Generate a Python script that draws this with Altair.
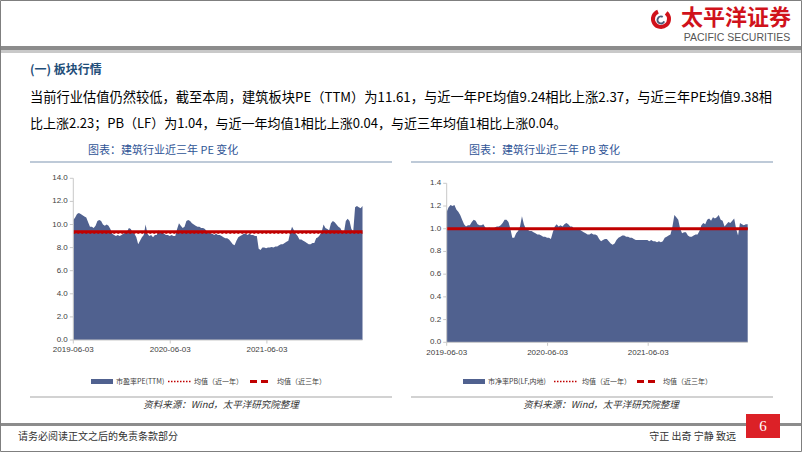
import altair as alt
import pandas as pd

CJK = "Noto Sans CJK SC"
LAT = "Liberation Sans"
AREA = "#50618F"
RED = "#C00000"
BLUE_T = "#2F5496"
AXC = "#C8C8C8"
LABC = "#404040"

# ---------------- data ----------------
start_date = "2019-06-03"
pe_ttm = [
    10.4, 10.6, 10.9, 11.0, 10.9, 10.8, 10.7, 10.6, 10.2, 9.8,
    9.8, 9.7, 9.9, 10.3, 10.4, 10.3, 10.0, 9.9, 10.0, 9.9,
    9.6, 9.2, 9.1, 9.0, 9.1, 9.0, 9.1, 9.2, 9.3, 9.4,
    9.7, 9.6, 9.3, 9.2, 8.9, 8.3, 8.6, 8.9, 9.1, 10.0,
    9.2, 9.0, 9.1, 8.9, 9.1, 9.1, 9.5, 9.4, 9.3, 9.2,
    9.1, 9.1, 9.0, 9.1, 9.0, 9.0, 9.6, 10.1, 9.9, 9.7,
    9.8, 10.3, 10.4, 10.3, 10.1, 10.0, 9.9, 9.8, 9.8, 9.7,
    9.7, 9.6, 9.4, 9.3, 9.2, 9.2, 9.1, 9.2, 9.1, 9.1,
    9.0, 8.9, 8.8, 8.8, 8.7, 8.5, 8.3, 8.2, 8.6, 8.9,
    9.0, 9.1, 9.2, 9.2, 9.1, 9.2, 9.1, 9.1, 9.0, 9.0,
    7.9, 7.8, 8.0, 8.0, 7.95, 8.0, 8.0, 8.05, 8.0, 8.1,
    8.1, 8.2, 8.3, 8.3, 8.4, 8.5, 8.6, 9.3, 9.8, 9.5,
    9.2, 9.0, 8.7, 8.7, 8.6, 8.5, 8.4, 8.3, 8.3, 8.4,
    8.4, 8.8, 8.9, 9.1, 9.4, 10.0, 9.7, 9.6, 9.5, 10.1,
    10.3, 10.2, 10.0, 9.8, 9.7, 9.4, 9.3, 10.3, 10.5, 10.3,
    9.6, 9.4, 11.5, 11.6, 11.5, 11.4, 11.61,
]
pb_lf = [
    1.15, 1.19, 1.21, 1.20, 1.21, 1.17, 1.15, 1.12, 1.08, 1.04,
    1.02, 1.03, 1.03, 1.06, 1.08, 1.07, 1.04, 1.03, 1.03, 1.04,
    1.01, 1.00, 1.01, 1.00, 1.00, 1.01, 1.02, 1.02, 1.03, 1.05,
    1.08, 1.08, 1.06, 1.00, 0.92, 0.92, 0.96, 0.98, 1.02, 1.11,
    1.04, 1.00, 0.99, 0.98, 0.98, 0.97, 0.96, 0.95, 0.95, 0.94,
    0.93, 0.93, 0.92, 0.92, 0.91, 0.97, 1.02, 1.04, 1.02, 1.03,
    1.02, 1.04, 1.05, 1.04, 1.02, 1.02, 1.00, 0.99, 0.99, 0.99,
    0.98, 0.97, 0.96, 0.95, 0.95, 0.96, 0.95, 0.95, 0.94, 0.91,
    0.89, 0.90, 0.91, 0.91, 0.89, 0.87, 0.86, 0.87, 0.90, 0.92,
    0.93, 0.94, 0.94, 0.93, 0.93, 0.92, 0.92, 0.91, 0.90, 0.90,
    0.90, 0.90, 0.90, 0.90, 0.90, 0.89, 0.90, 0.89, 0.89, 0.88,
    0.89, 0.88, 0.89, 0.92, 0.93, 0.94, 0.95, 1.02, 1.12, 1.10,
    1.08, 1.00, 0.96, 0.97, 0.97, 0.94, 0.93, 0.93, 0.94, 0.95,
    0.95, 0.98, 1.03, 1.05, 1.04, 1.08, 1.09, 1.07, 1.10, 1.09,
    1.10, 1.12, 1.08, 1.07, 1.02, 1.04, 1.06, 1.05, 1.07, 1.09,
    1.00, 0.94, 1.05, 1.04, 1.03, 1.04, 1.04,
]
pe_means = [9.24, 9.38]          # 近一年, 近三年
pb_means = [1.0, 1.0]
mean_kinds = ["1y", "3y"]
x_tick_dates = ["2019-06-03", "2020-06-03", "2021-06-03"]
x_tick_labels = ["2019-06-03", "2020-06-03", "2021-06-03"]
pe_y_ticks = [0, 2, 4, 6, 8, 10, 12, 14]
pb_y_ticks = [0, 0.2, 0.4, 0.6, 0.8, 1.0, 1.2, 1.4]

heading = "(一) 板块行情"
para_1 = "当前行业估值仍然较低，截至本周，建筑板块PE（TTM）为11.61，与近一年PE均值9.24相比上涨2.37，与近三年PE均值9.38相"
para_2 = "比上涨2.23；PB（LF）为1.04，与近一年均值1相比上涨0.04，与近三年均值1相比上涨0.04。"
pe_title = "图表：建筑行业近三年 PE 变化"
pb_title = "图表：建筑行业近三年 PB 变化"
pe_series = "市盈率PE(TTM)"
pb_series = "市净率PB(LF,内地)"
mean_1y_label = "均值（近一年）"
mean_3y_label = "均值（近三年）"
source = "资料来源：Wind，太平洋研究院整理"
footer_left = "请务必阅读正文之后的免责条款部分"
footer_right = "守正 出奇 宁静 致远"
page_no = "6"
logo_cn = "太平洋证券"
logo_en = "PACIFIC SECURITIES"

dates = pd.date_range(start_date, periods=len(pe_ttm), freq="7D").strftime("%Y-%m-%d").tolist()


def dtm(s):
    y, m, d = map(int, s.split("-"))
    return alt.DateTime(year=y, month=m, date=d, utc=True)


def panel(values, means, ymax, yticks, xr, yr, xlab_dy):
    x0, ybase = xr[0], yr[0]
    df = pd.DataFrame({"date": dates, "value": values})
    mdf = pd.DataFrame({"start": [dates[0]] * 2, "end": [dates[-1]] * 2,
                        "value": means, "kind": mean_kinds})
    ydf = pd.DataFrame({"tick": yticks})
    xdf = pd.DataFrame({"d": x_tick_dates, "lab": x_tick_labels})
    dom = pd.DataFrame({"start": [dates[0]], "end": [dates[-1]], "lo": [0], "hi": [ymax]})
    xs = alt.Scale(type="utc", domain=[dtm(dates[0]), dtm(dates[-1])], range=xr)
    ys = alt.Scale(domain=[0, ymax], range=yr, nice=False, zero=True)

    area = alt.Chart(df).mark_area(color=AREA, opacity=1).encode(
        x=alt.X("date:T", scale=xs, axis=None),
        y=alt.Y("value:Q", scale=ys, axis=None),
    )
    r1 = alt.Chart(mdf).transform_filter(alt.datum.kind == "1y").mark_rule(
        color=RED, strokeWidth=1, strokeDash=[2, 2]).encode(
        x=alt.X("start:T", scale=xs, axis=None), x2="end:T",
        y=alt.Y("value:Q", scale=ys, axis=None))
    r2 = alt.Chart(mdf).transform_filter(alt.datum.kind == "3y").mark_rule(
        color=RED, strokeWidth=3).encode(
        x=alt.X("start:T", scale=xs, axis=None), x2="end:T",
        y=alt.Y("value:Q", scale=ys, axis=None))
    # axes drawn through the same scales
    ydomain = alt.Chart(dom).mark_rule(color=AXC, strokeWidth=1).encode(
        x=alt.value(x0), y=alt.Y("lo:Q", scale=ys, axis=None), y2="hi:Q")
    xdomain = alt.Chart(dom).mark_rule(color=AXC, strokeWidth=1).encode(
        x=alt.X("start:T", scale=xs, axis=None), x2="end:T",
        y=alt.Y("lo:Q", scale=ys, axis=None))
    yticks_m = alt.Chart(ydf).mark_rule(color=AXC, strokeWidth=1).encode(
        x=alt.value(x0 - 3.5), x2=alt.value(x0),
        y=alt.Y("tick:Q", scale=ys, axis=None))
    ylabels = alt.Chart(ydf).mark_text(
        align="right", baseline="middle", font=LAT, fontSize=8, color=LABC).encode(
        x=alt.value(x0 - 5.5), y=alt.Y("tick:Q", scale=ys, axis=None),
        text=alt.Text("tick:Q", format=".1f"))
    xticks_m = alt.Chart(xdf).mark_rule(color=AXC, strokeWidth=1).encode(
        x=alt.X("d:T", scale=xs, axis=None),
        y=alt.value(ybase), y2=alt.value(ybase + 3.5))
    xlabels = alt.Chart(xdf).mark_text(
        align="center", baseline="middle", font=LAT, fontSize=8, color=LABC).encode(
        x=alt.X("d:T", scale=xs, axis=None), y=alt.value(ybase + xlab_dy),
        text="lab:N")
    return alt.layer(area, r1, r2, ydomain, xdomain, yticks_m, ylabels, xticks_m, xlabels)


def txt(s, x, y, size=10, color="#000000", align="left", weight="normal",
        font=CJK, style="normal"):
    return alt.Chart().mark_text(
        text=s, align=align, baseline="middle", fontSize=size, color=color,
        font=font, fontWeight=weight, fontStyle=style,
    ).encode(x=alt.value(x), y=alt.value(y))


def rect(x, x2, y, y2, color):
    return alt.Chart().mark_rect(color=color).encode(
        x=alt.value(x), x2=alt.value(x2), y=alt.value(y), y2=alt.value(y2))


def hline(x, x2, y, color, width=1, dash=None):
    kw = dict(color=color, strokeWidth=width)
    if dash:
        kw["strokeDash"] = dash
    return alt.Chart().mark_rule(**kw).encode(
        x=alt.value(x), x2=alt.value(x2), y=alt.value(y))


deco = [
    # header
    rect(0, 802, 46, 50, "#8C8C8C"),
    rect(0, 802, 50, 53, "#C9C9C9"),
    alt.Chart().mark_arc(radius=10, radius2=6, theta=0.7, theta2=5.9, color="#D0121B").encode(
        x=alt.value(661), y=alt.value(19)),
    alt.Chart().mark_arc(radius=4.5, radius2=2.5, theta=2.0, theta2=6.8, color="#4A5A78").encode(
        x=alt.value(661), y=alt.value(20)),
    txt(logo_cn, 736, 18, size=22, color="#D0121B", align="center", weight="bold"),
    txt(logo_en, 737, 37.5, size=10.5, color="#555555", align="center", font=LAT),
    # text body
    txt(heading, 30, 70, size=12, color="#1F4E79", weight="bold"),
    txt(para_1, 30, 98, size=13.25),
    txt(para_2, 30, 124, size=13),
    # panel titles
    txt(pe_title, 88, 151, size=11, color=BLUE_T),
    txt(pb_title, 469, 151, size=11, color=BLUE_T),
    hline(30, 392, 162, "#7F96B2", 1.2),
    hline(411, 773, 162, "#7F96B2", 1.2),
    # legends
    rect(91, 113, 379, 384, AREA),
    txt(pe_series, 116, 381.5, size=7, color=LABC),
    hline(168, 191, 381.5, RED, 1.3, [1.5, 1.5]),
    txt(mean_1y_label, 194, 381.5, size=7, color=LABC),
    hline(250, 268, 381.5, RED, 3, [7, 4]),
    txt(mean_3y_label, 277, 381.5, size=7, color=LABC),
    rect(463, 485, 379, 384, AREA),
    txt(pb_series, 488, 381.5, size=7, color=LABC),
    hline(554, 578, 381.5, RED, 1.3, [1.5, 1.5]),
    txt(mean_1y_label, 582, 381.5, size=7, color=LABC),
    hline(637, 658, 381.5, RED, 3, [7, 4]),
    txt(mean_3y_label, 663, 381.5, size=7, color=LABC),
    hline(30, 392, 397, "#A6A6A6", 1.2),
    hline(411, 773, 397, "#A6A6A6", 1.2),
    txt(source, 221, 405, size=9.5, color="#333333", align="center", style="italic"),
    txt(source, 601, 405, size=9.5, color="#333333", align="center", style="italic"),
    # footer
    rect(0, 802, 423, 426, "#8C8C8C"),
    txt(footer_left, 18, 437, size=10, color="#333333"),
    txt(footer_right, 736, 437, size=10, color="#333333", align="right"),
    rect(746, 780, 414, 438, "#DC2127"),
    txt(page_no, 763, 426, size=15, color="#FFFFFF", align="center", font="Liberation Serif"),
]

border = alt.Chart().mark_rect(fillOpacity=0, stroke="#7F7F7F", strokeWidth=1).encode(
    x=alt.value(0.5), x2=alt.value(801.5), y=alt.value(0.5), y2=alt.value(451.5))

pe_panel = panel(pe_ttm, pe_means, 14, pe_y_ticks, [73.3, 362.5], [340, 178.3], 10)
pb_panel = panel(pb_lf, pb_means, 1.4, pb_y_ticks, [446.7, 747.7], [342.3, 183.3], 11)

chart = alt.layer(*deco, pe_panel, pb_panel, border).resolve_scale(
    x="independent", y="independent"
).properties(
    width=802, height=452, padding=0,
    autosize=alt.AutoSizeParams(type="none"), background="white",
).configure_view(stroke=None)

chart.save("out.html", embed_options={"renderer": "svg", "actions": False})
